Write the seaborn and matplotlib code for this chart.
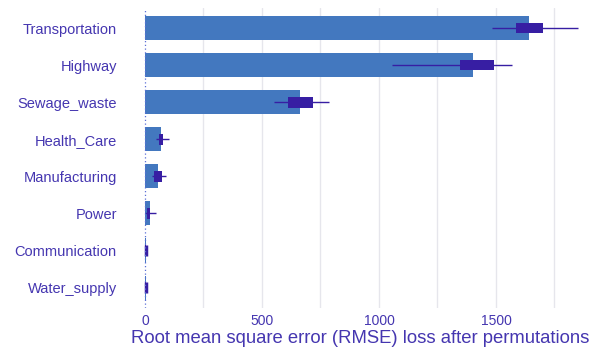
import matplotlib
matplotlib.use("Agg")
import matplotlib.pyplot as plt
import seaborn as sns
import pandas as pd

# Permutation feature importance: mean RMSE loss and spread across permutations
variables = ["Transportation", "Highway", "Sewage_waste", "Health_Care",
             "Manufacturing", "Power", "Communication", "Water_supply"]
mean_loss = [1640, 1402, 661, 70, 55, 20, 3, 3]
box_lo = [1586, 1347, 610, 59, 38, 9, 0, 0]
box_hi = [1700, 1492, 717, 79, 71, 23, 6, 6]
whisker_lo = [1484, 1056, 550, 45, 31, 2, 0, 0]
whisker_hi = [1850, 1569, 785, 102, 88, 48, 6, 6]
x_ticks = [0, 500, 1000, 1500]
grid_breaks = [250, 500, 750, 1000, 1250, 1500, 1750]

bar_color = "#4378bf"
box_color = "#371ea3"
text_color = "#4536b0"

sns.set_theme(style="white")
plt.rcParams["font.family"] = ["Liberation Sans", "DejaVu Sans"]

df = pd.DataFrame({"variable": variables, "loss": mean_loss})

fig = plt.figure(figsize=(5.92, 3.49), dpi=100)
ax = fig.add_axes([130 / 592, 1 - 308 / 349, 460 / 592, 300 / 349])

for g in grid_breaks:
    ax.axvline(g, color="#e6e6ec", linewidth=1.0, zorder=0)

sns.barplot(data=df, x="loss", y="variable", orient="h", color=bar_color,
            saturation=1, width=0.65, linewidth=0, ax=ax, zorder=2)

ax.axvline(0, color="#5b6fd6", linestyle=(0, (1, 2)), linewidth=0.9, zorder=5)

ypos = list(range(len(variables)))
ax.hlines(ypos, whisker_lo, whisker_hi, color=box_color, linewidth=1.0, zorder=3)
ax.barh(ypos, [h - l for l, h in zip(box_lo, box_hi)], left=box_lo,
        height=0.29, color=box_color, linewidth=0, zorder=4)
# near-zero boxes still show as a thin mark
for y, l, h in zip(ypos, box_lo, box_hi):
    if h - l < 10:
        ax.vlines((l + h) / 2, y - 0.14, y + 0.14, color=box_color, linewidth=2.5, zorder=4)

ax.set_xlim(-64, 1902)
ax.set_ylim(7.55, -0.54)
ax.set_xticks(x_ticks)
ax.set_xticklabels([str(t) for t in x_ticks], fontsize=10, color=text_color)
ax.tick_params(axis="y", labelsize=10.5, labelcolor=text_color, length=0, pad=9.5)
ax.tick_params(axis="x", length=0, pad=4)
ax.set_ylabel("")
ax.set_xlabel("Root mean square error (RMSE) loss after permutations",
              fontsize=13.3, color=text_color, labelpad=2)
for s in ax.spines.values():
    s.set_visible(False)

fig.savefig("out.png", dpi=100)
